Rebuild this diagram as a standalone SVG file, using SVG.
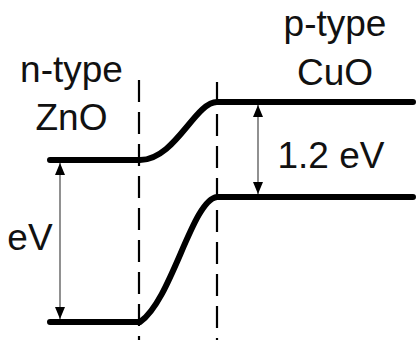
<svg xmlns="http://www.w3.org/2000/svg" width="419" height="340" viewBox="0 0 419 340">
<style>
.band{fill:none;stroke:#000;stroke-width:6;stroke-linecap:round;stroke-linejoin:round}
.dash{fill:none;stroke:#000;stroke-width:2.2;stroke-dasharray:22 10}
.arr{fill:none;stroke:#555;stroke-width:1.3;marker-start:url(#ah);marker-end:url(#ah)}
text{font-family:"Liberation Sans",Arial,sans-serif;font-size:37px;fill:#111;text-anchor:middle}
</style>
<defs>
<marker id="ah" viewBox="0 0 12 10" refX="12" refY="5" markerWidth="12" markerHeight="10" markerUnits="userSpaceOnUse" orient="auto-start-reverse">
<path d="M0,0 L12,5 L0,10 Z" fill="#000"/>
</marker>
</defs>
<g id="interfaces">
<line class="dash" x1="139" y1="80" x2="139" y2="340"/>
<line class="dash" x1="217" y1="82" x2="217" y2="340"/>
</g>
<g id="conduction-band">
<path class="band" d="M50,160 L140,160 C175,160 195,102 217,102 L413,102"/>
</g>
<g id="valence-band">
<path class="band" d="M50,322 L140,322 C172,300 192,200 217,197 L413,197"/>
</g>
<g id="connectors">
<line class="arr" x1="60" y1="163" x2="60" y2="319"/>
<line class="arr" x1="258" y1="105" x2="258" y2="194"/>
</g>
<g id="label-n"><text x="71.5" y="82">n-type</text><text x="71.5" y="130">ZnO</text></g>
<g id="label-p"><text x="335" y="36">p-type</text><text x="335" y="85">CuO</text></g>
<g id="label-12"><text x="331" y="168">1.2 eV</text></g>
<g id="label-ev"><text x="30" y="250">eV</text></g>
</svg>
